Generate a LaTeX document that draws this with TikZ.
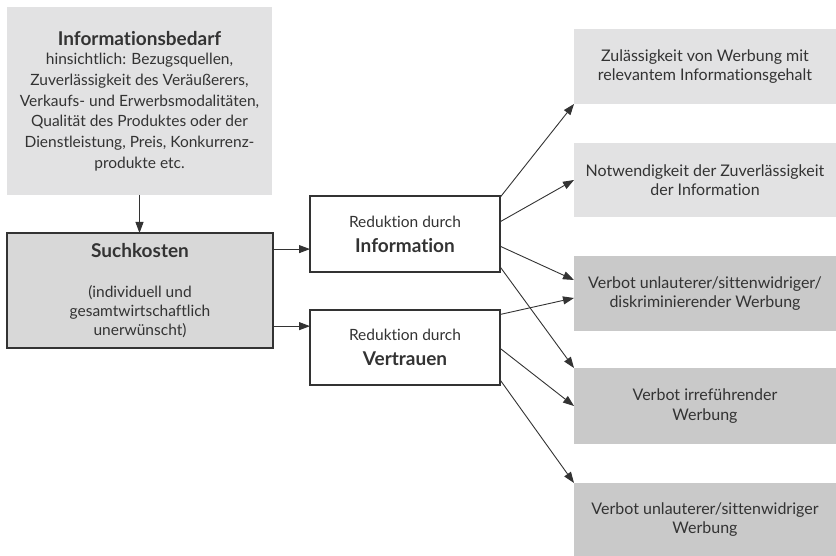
\documentclass[tikz,border=0pt]{standalone}
\usepackage{fontspec}
\setmainfont{Lato}[Ligatures=NoCommon]
\usetikzlibrary{arrows.meta,calc}
\definecolor{lightbox}{HTML}{E2E2E3}
\definecolor{midbox}{HTML}{D8D8D8}
\definecolor{darkbox}{HTML}{C9C9C9}
\definecolor{ink}{HTML}{333333}
\newcommand{\hfont}{\fontsize{19}{23}\selectfont\bfseries}
\begin{document}
\begin{tikzpicture}[x=1pt,y=-1pt,
  every node/.style={inner sep=0pt,outer sep=0pt,text=ink},
  gbox/.style={anchor=north west,align=center,font=\fontsize{15.5}{20.7}\selectfont},
  rgbox/.style={gbox,font=\fontsize{16}{19.5}\selectfont},
  rbox/.style={gbox,fill=white,draw=ink,line width=1.6pt,font=\fontsize{15.5}{19}\selectfont},
  conn/.style={draw=ink,line width=0.9pt,-{Triangle[length=11pt,width=8pt]}}]
\useasboundingbox (0,0) rectangle (836,556);
% left boxes
\node[gbox,fill=lightbox,minimum width=265pt,minimum height=188pt] (bedarf) at (7,7)
  {{\hfont Informationsbedarf}\\[-1pt]
   hinsichtlich: Bezugsquellen,\\ Zuverlässigkeit des Veräußerers,\\
   Verkaufs- und Erwerbsmodalitäten,\\ Qualität des Produktes oder der\\
   Dienstleistung, Preis, Konkurrenz-\\ produkte etc.};
\node[gbox,fill=midbox,draw=ink,line width=1.8pt,minimum width=266pt,minimum height=115pt,font=\fontsize{15.5}{19}\selectfont] (such) at (7,233)
  {{\hfont Suchkosten}\\[21pt]
   (individuell und\\ gesamtwirtschaftlich\\ unerwünscht)};
% middle boxes
\node[rbox,minimum width=190pt,minimum height=76pt] (info) at (310,196)
  {Reduktion durch\\[6pt]{\hfont Information}};
\node[rbox,minimum width=190pt,minimum height=75pt] (vert) at (310,310)
  {Reduktion durch\\[6pt]{\hfont Vertrauen}};
% right boxes
\node[rgbox,fill=lightbox,minimum width=262pt,minimum height=75pt] (r1) at (574,29)
  {Zulässigkeit von Werbung mit\\ relevantem Informationsgehalt};
\node[rgbox,fill=lightbox,minimum width=262pt,minimum height=74pt] (r2) at (574,143)
  {Notwendigkeit der Zuverlässigkeit\\ der Information};
\node[rgbox,fill=darkbox,minimum width=262pt,minimum height=75pt] (r3) at (574,256)
  {Verbot unlauterer/sittenwidriger/\\ diskriminierender Werbung};
\node[rgbox,fill=darkbox,minimum width=262pt,minimum height=76pt] (r4) at (574,368)
  {Verbot irreführender\\ Werbung};
\node[rgbox,fill=darkbox,minimum width=262pt,minimum height=73pt] (r5) at (574,483)
  {Verbot unlauterer/sittenwidriger\\ Werbung};
% connectors
\draw[conn] (bedarf.south) -- (bedarf.south |- such.north);
\coordinate (s1) at ($(such.north east)!0.14!(such.south east)$);
\coordinate (s2) at ($(such.north east)!0.81!(such.south east)$);
\draw[conn] (s1) -- (s1 -| info.west);
\draw[conn] (s2) -- (s2 -| vert.west);
\draw[conn] ($(info.north east)!0.02!(info.south east)$) -- (r1.south west);
\draw[conn] ($(info.north east)!0.34!(info.south east)$) -- (r2.west);
\draw[conn] ($(info.north east)!0.66!(info.south east)$) -- ($(r3.north west)!0.32!(r3.south west)$);
\draw[conn] ($(info.north east)!0.93!(info.south east)$) -- (r4.north west);
\draw[conn] ($(vert.north east)!0.06!(vert.south east)$) -- ($(r3.north west)!0.56!(r3.south west)$);
\draw[conn] ($(vert.north east)!0.51!(vert.south east)$) -- (r4.west);
\draw[conn] ($(vert.north east)!0.93!(vert.south east)$) -- (r5.north west);
\end{tikzpicture}
\end{document}
